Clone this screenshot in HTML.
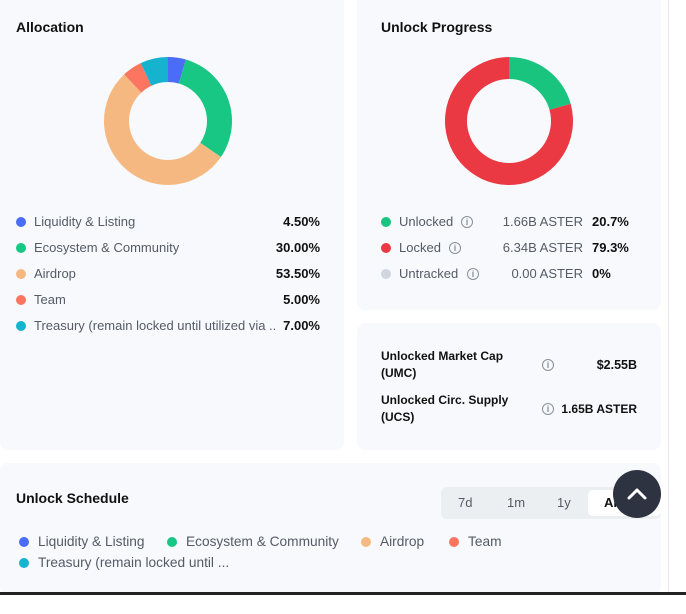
<!DOCTYPE html>
<html><head><meta charset="utf-8"><style>
*{box-sizing:border-box;margin:0;padding:0}
body{width:686px;height:614px;background:#fff;font-family:"Liberation Sans",sans-serif;position:relative;overflow:hidden;color:#111}
.panel{position:absolute;background:#f7f9fc;border-radius:8px}
.t{position:absolute;white-space:nowrap;font-size:13px;line-height:16px}
.h{font-weight:bold;font-size:14px;color:#111}
.g{color:#555b66}
.b{font-weight:bold;color:#111}
.dot{position:absolute;width:10px;height:10px;border-radius:50%}
.info{position:absolute;width:12px;height:12px;border:1px solid #8a9099;border-radius:50%;font-size:9px;line-height:10px;text-align:center;color:#8a9099;font-weight:bold}
</style></head><body>
<div class="panel" style="left:0;top:-8px;width:344px;height:458px"></div>
<div class="panel" style="left:357px;top:-8px;width:304px;height:318px"></div>
<div class="panel" style="left:357px;top:323px;width:304px;height:127px"></div>
<div class="panel" style="left:0;top:463px;width:661px;height:132px"></div>
<div style="position:absolute;left:668px;top:0;width:1px;height:592px;background:#e6e9ee"></div>
<div style="position:absolute;left:0;top:592px;width:686px;height:3px;background:#222"></div>

<div class="t h" style="left:16px;top:19px">Allocation</div>
<div class="t h" style="left:381px;top:19px">Unlock Progress</div>

<svg id="alloc" style="position:absolute;left:0;top:0" width="344" height="200"></svg>
<svg id="prog" style="position:absolute;left:357px;top:0" width="304" height="200"></svg>

<div id="allocLegend"></div>

<div class="dot" style="left:381px;top:217px;background:#19c47f"></div>
<div class="t g" style="left:399px;top:214px">Unlocked</div>
<div class="info" style="left:461px;top:216px">i</div>
<div class="t g" style="right:103px;top:214px">1.66B ASTER</div>
<div class="t b" style="left:592px;top:214px">20.7%</div>
<div class="dot" style="left:381px;top:243px;background:#ea3943"></div>
<div class="t g" style="left:399px;top:240px">Locked</div>
<div class="info" style="left:449px;top:242px">i</div>
<div class="t g" style="right:103px;top:240px">6.34B ASTER</div>
<div class="t b" style="left:592px;top:240px">79.3%</div>
<div class="dot" style="left:381px;top:269px;background:#cfd6e0"></div>
<div class="t g" style="left:399px;top:266px">Untracked</div>
<div class="info" style="left:467px;top:268px">i</div>
<div class="t g" style="right:103px;top:266px">0.00 ASTER</div>
<div class="t b" style="left:592px;top:266px">0%</div>

<div class="t b" style="left:381px;top:348px;font-size:12px;line-height:17px">Unlocked Market Cap<br>(UMC)</div>
<div class="info" style="left:542px;top:359px">i</div>
<div class="t b" style="right:49px;top:357px;font-size:12.5px">$2.55B</div>
<div class="t b" style="left:381px;top:392px;font-size:12px;line-height:17px">Unlocked Circ. Supply<br>(UCS)</div>
<div class="info" style="left:542px;top:403px">i</div>
<div class="t b" style="right:49px;top:401px;font-size:12px">1.65B ASTER</div>

<div class="t h" style="left:16px;top:490px">Unlock Schedule</div>
<div style="position:absolute;left:441px;top:487px;width:220px;height:32px;background:#eceff2;border-radius:6px"></div>
<div style="position:absolute;left:588px;top:490px;width:73px;height:26px;background:#fff;border-radius:5px"></div>
<div class="t g" style="left:458px;top:495px">7d</div>
<div class="t g" style="left:507px;top:495px">1m</div>
<div class="t g" style="left:557px;top:495px">1y</div>
<div class="t b" style="left:604px;top:495px">All</div>
<div style="position:absolute;left:613px;top:470px;width:48px;height:48px;border-radius:50%;background:#2d3340">
<svg width="48" height="48"><polyline points="16,28 24,20 32,28" fill="none" stroke="#fff" stroke-width="3" stroke-linecap="round" stroke-linejoin="round"/></svg></div>

<div id="schedLegend"></div>

<script>
const allocLabels=["Liquidity & Listing","Ecosystem & Community","Airdrop","Team","Treasury (remain locked until utilized via ..."];
const allocValues=[4.5,30,53.5,5,7];
const allocColors=["#4a6cf7","#19c784","#f5b880","#fb7560","#16b3cf"];
const progLabels=["Unlocked","Locked"];
const progValues=[20.7,79.3];
const progColors=["#19c47f","#ea3943"];
const schedLabels=["Liquidity & Listing","Ecosystem & Community","Airdrop","Team","Treasury (remain locked until ..."];

const NS="http://www.w3.org/2000/svg";
function arc(cx,cy,R,r,a0,a1){
  const p=(rad,a)=>[cx+rad*Math.sin(a),cy-rad*Math.cos(a)];
  const l=(a1-a0)>Math.PI?1:0;
  const [x0,y0]=p(R,a0),[x1,y1]=p(R,a1),[x2,y2]=p(r,a1),[x3,y3]=p(r,a0);
  return `M${x0},${y0}A${R},${R} 0 ${l} 1 ${x1},${y1}L${x2},${y2}A${r},${r} 0 ${l} 0 ${x3},${y3}Z`;
}
function donut(svg,vals,cols,names,cx,cy,R,r){
  const tot=vals.reduce((a,b)=>a+b,0);let a=0;
  vals.forEach((v,i)=>{
    const a1=a+v/tot*2*Math.PI;
    const path=document.createElementNS(NS,"path");
    path.setAttribute("d",arc(cx,cy,R,r,a,Math.min(a1,a+2*Math.PI-1e-4)));
    path.setAttribute("fill",cols[i]);
    
    
    svg.appendChild(path);a=a1;
  });
}
donut(document.getElementById("alloc"),allocValues,allocColors,allocLabels.map((l,i)=>"allocation-slice-"+i),168,121,64,39);
donut(document.getElementById("prog"),progValues,progColors,progLabels.map(l=>"progress-slice-"+l.toLowerCase()),152,121,64,42);

const al=document.getElementById("allocLegend");
allocLabels.forEach((lab,i)=>{
  const y=222+i*26;
  const d=document.createElement("div");d.className="dot";
  d.style.cssText=`left:16px;top:${y-5}px;background:${allocColors[i]}`;
  
  
  al.appendChild(d);
  const t=document.createElement("div");t.className="t g";
  t.style.cssText=`left:34px;top:${y-8}px;max-width:243px;overflow:hidden`;t.textContent=lab;
  
  
  al.appendChild(t);
  const v=document.createElement("div");v.className="t b";
  v.style.cssText=`right:366px;top:${y-8}px`;v.textContent=allocValues[i].toFixed(2)+"%";
  
  
  al.appendChild(v);
});
const sl=document.getElementById("schedLegend");
const pos=[[19,542],[167,542],[361,542],[449,542],[19,563]];
schedLabels.forEach((lab,i)=>{
  const [x,y]=pos[i];
  const d=document.createElement("div");d.className="dot";
  d.style.cssText=`left:${x}px;top:${y-5}px;background:${allocColors[i]}`;
  
  
  sl.appendChild(d);
  const t=document.createElement("div");t.className="t g";
  t.style.cssText=`left:${x+19}px;top:${y-8}px;font-size:13.7px`;t.textContent=lab;
  
  
  sl.appendChild(t);
});
</script>
</body></html>
